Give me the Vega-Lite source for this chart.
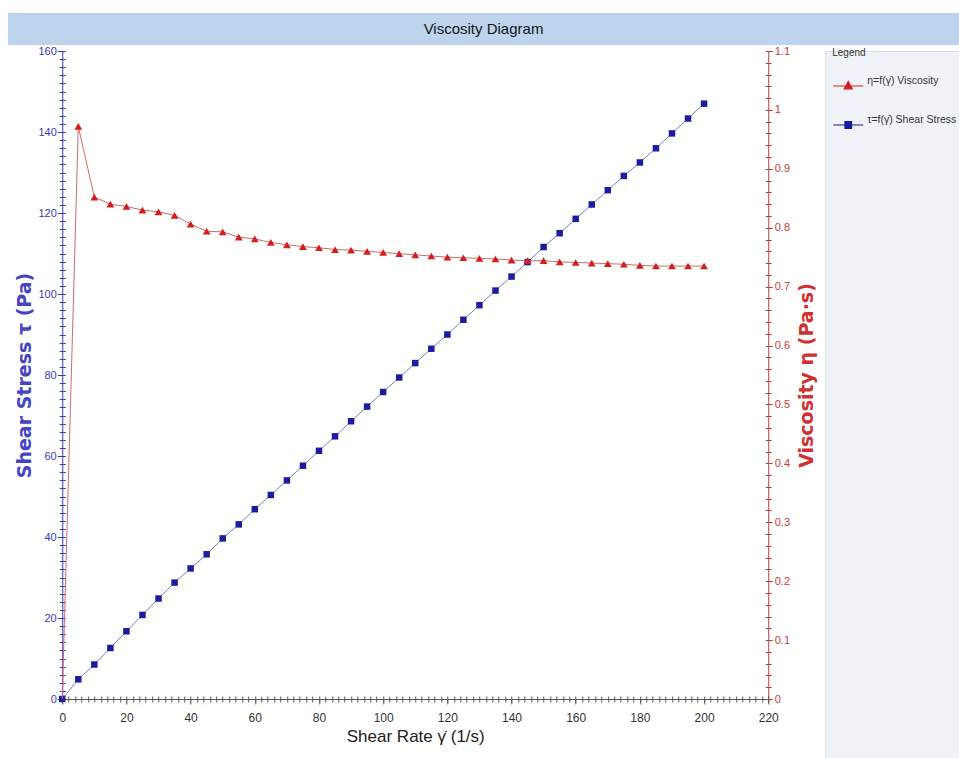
{
  "$schema": "https://vega.github.io/schema/vega-lite/v6.json",
  "background": "white",
  "padding": {"left": 8, "top": 13, "right": 0, "bottom": 0},
  "config": {
    "view": {"stroke": null},
    "axis": {"grid": false},
    "font": "Liberation Sans, Arial, sans-serif"
  },
  "spacing": 0,
  "center": true,
  "resolve": {
    "scale": {"shape": "independent", "fill": "independent", "stroke": "independent"},
    "legend": {"shape": "independent", "fill": "independent", "stroke": "independent"}
  },
  "vconcat": [
    {
      "width": 1022,
      "height": 32,
      "view": {"fill": "#bed4ec", "stroke": null},
      "data": {"values": [{"label": "Viscosity Diagram"}]},
      "mark": {"type": "text", "fontSize": 15, "color": "#141414", "dx": -35.5},
      "encoding": {"text": {"field": "label"}}
    },
    {
      "spacing": 7,
      "align": "none",
      "resolve": {
        "scale": {"shape": "independent", "fill": "independent", "stroke": "independent"},
        "legend": {"shape": "independent", "fill": "independent", "stroke": "independent"}
      },
      "hconcat": [
        {
          "width": 706,
          "height": 648,
          "data": {
            "values": [
              {"rate": 0, "stress": 0, "visc": 0},
              {"rate": 5, "stress": 4.86, "visc": 0.972},
              {"rate": 10, "stress": 8.52, "visc": 0.852},
              {"rate": 15, "stress": 12.6, "visc": 0.84},
              {"rate": 20, "stress": 16.72, "visc": 0.836},
              {"rate": 25, "stress": 20.75, "visc": 0.83},
              {"rate": 30, "stress": 24.81, "visc": 0.827},
              {"rate": 35, "stress": 28.74, "visc": 0.821},
              {"rate": 40, "stress": 32.24, "visc": 0.806},
              {"rate": 45, "stress": 35.73, "visc": 0.794},
              {"rate": 50, "stress": 39.65, "visc": 0.793},
              {"rate": 55, "stress": 43.12, "visc": 0.784},
              {"rate": 60, "stress": 46.86, "visc": 0.781},
              {"rate": 65, "stress": 50.38, "visc": 0.775},
              {"rate": 70, "stress": 53.97, "visc": 0.771},
              {"rate": 75, "stress": 57.6, "visc": 0.768},
              {"rate": 80, "stress": 61.28, "visc": 0.766},
              {"rate": 85, "stress": 64.86, "visc": 0.763},
              {"rate": 90, "stress": 68.58, "visc": 0.762},
              {"rate": 95, "stress": 72.2, "visc": 0.76},
              {"rate": 100, "stress": 75.8, "visc": 0.758},
              {"rate": 105, "stress": 79.38, "visc": 0.756},
              {"rate": 110, "stress": 82.94, "visc": 0.754},
              {"rate": 115, "stress": 86.48, "visc": 0.752},
              {"rate": 120, "stress": 90.0, "visc": 0.75},
              {"rate": 125, "stress": 93.63, "visc": 0.749},
              {"rate": 130, "stress": 97.24, "visc": 0.748},
              {"rate": 135, "stress": 100.85, "visc": 0.747},
              {"rate": 140, "stress": 104.3, "visc": 0.745},
              {"rate": 145, "stress": 107.88, "visc": 0.744},
              {"rate": 150, "stress": 111.6, "visc": 0.744},
              {"rate": 155, "stress": 115.01, "visc": 0.742},
              {"rate": 160, "stress": 118.56, "visc": 0.741},
              {"rate": 165, "stress": 122.1, "visc": 0.74},
              {"rate": 170, "stress": 125.63, "visc": 0.739},
              {"rate": 175, "stress": 129.15, "visc": 0.738},
              {"rate": 180, "stress": 132.48, "visc": 0.736},
              {"rate": 185, "stress": 135.98, "visc": 0.735},
              {"rate": 190, "stress": 139.65, "visc": 0.735},
              {"rate": 195, "stress": 143.33, "visc": 0.735},
              {"rate": 200, "stress": 147.0, "visc": 0.735}
            ]
          },
          "resolve": {"scale": {"y": "independent"}, "axis": {"x": "independent"}},
          "layer": [
            {
              "resolve": {"axis": {"x": "independent", "y": "independent"}},
              "layer": [
                {
                  "mark": {"type": "line", "color": "#7c7cc4", "strokeWidth": 1},
                  "encoding": {
                    "x": {
                      "field": "rate",
                      "type": "quantitative",
                      "scale": {"domain": [0, 220], "nice": false},
                      "axis": {
                        "orient": "bottom",
                        "title": "Shear Rate γ̇ (1/s)",
                        "values": [0, 20, 40, 60, 80, 100, 120, 140, 160, 180, 200, 220],
                        "labelFlush": false,
                        "labelPadding": 8,
                        "labelFontSize": 12,
                        "labelColor": "#333333",
                        "tickSize": 5,
                        "tickColor": "#555555",
                        "domainColor": "#555555",
                        "titleFontSize": 17,
                        "titleFontWeight": "normal",
                        "titleColor": "#222222",
                        "titlePadding": 5
                      }
                    },
                    "y": {
                      "field": "stress",
                      "type": "quantitative",
                      "scale": {"domain": [0, 160], "nice": false},
                      "axis": {
                        "orient": "left",
                        "title": "Shear Stress τ (Pa)",
                        "values": [0, 20, 40, 60, 80, 100, 120, 140, 160],
                        "labelPadding": 1,
                        "labelFontSize": 11,
                        "labelColor": "#3a3ab4",
                        "tickSize": 5,
                        "tickColor": "#3a3ab4",
                        "domainColor": "#3a3ab4",
                        "titleFont": "DejaVu Sans",
                        "titleFontSize": 19,
                        "titleFontWeight": "bold",
                        "titleColor": "#4545c4",
                        "titlePadding": 3
                      }
                    }
                  }
                },
                {
                  "mark": {"type": "point", "shape": "square", "filled": true, "size": 42, "color": "#1c1ca0", "opacity": 1},
                  "encoding": {
                    "x": {"field": "rate", "type": "quantitative", "axis": null},
                    "y": {
                      "field": "stress",
                      "type": "quantitative",
                      "axis": {
                        "orient": "left",
                        "title": null,
                        "labels": false,
                        "domain": false,
                        "values": [0,2,4,6,8,10,12,14,16,18,20,22,24,26,28,30,32,34,36,38,40,42,44,46,48,50,52,54,56,58,60,62,64,66,68,70,72,74,76,78,80,82,84,86,88,90,92,94,96,98,100,102,104,106,108,110,112,114,116,118,120,122,124,126,128,130,132,134,136,138,140,142,144,146,148,150,152,154,156,158,160],
                        "tickSize": 3,
                        "tickColor": "#3a3ab4"
                      }
                    }
                  }
                },
                {
                  "transform": [{"filter": "false"}],
                  "mark": {"type": "point"},
                  "encoding": {
                    "x": {
                      "field": "rate",
                      "type": "quantitative",
                      "axis": {
                        "orient": "bottom",
                        "title": null,
                        "labels": false,
                        "domain": false,
                        "values": [0,2,4,6,8,10,12,14,16,18,20,22,24,26,28,30,32,34,36,38,40,42,44,46,48,50,52,54,56,58,60,62,64,66,68,70,72,74,76,78,80,82,84,86,88,90,92,94,96,98,100,102,104,106,108,110,112,114,116,118,120,122,124,126,128,130,132,134,136,138,140,142,144,146,148,150,152,154,156,158,160,162,164,166,168,170,172,174,176,178,180,182,184,186,188,190,192,194,196,198,200,202,204,206,208,210,212,214,216,218,220],
                        "tickSize": -3,
                        "tickColor": "#555555"
                      }
                    },
                    "y": {
                      "field": "stress",
                      "type": "quantitative",
                      "axis": {
                        "orient": "left",
                        "title": null,
                        "labels": false,
                        "domain": false,
                        "values": [0,2,4,6,8,10,12,14,16,18,20,22,24,26,28,30,32,34,36,38,40,42,44,46,48,50,52,54,56,58,60,62,64,66,68,70,72,74,76,78,80,82,84,86,88,90,92,94,96,98,100,102,104,106,108,110,112,114,116,118,120,122,124,126,128,130,132,134,136,138,140,142,144,146,148,150,152,154,156,158,160],
                        "tickSize": -3,
                        "tickColor": "#3a3ab4"
                      }
                    }
                  }
                }
              ]
            },
            {
              "resolve": {"axis": {"x": "independent", "y": "independent"}},
              "layer": [
                {
                  "mark": {"type": "line", "color": "#d06a6a", "strokeWidth": 1},
                  "encoding": {
                    "x": {
                      "field": "rate",
                      "type": "quantitative",
                      "axis": {
                        "orient": "bottom",
                        "title": null,
                        "labels": false,
                        "domain": false,
                        "values": [0,2,4,6,8,10,12,14,16,18,20,22,24,26,28,30,32,34,36,38,40,42,44,46,48,50,52,54,56,58,60,62,64,66,68,70,72,74,76,78,80,82,84,86,88,90,92,94,96,98,100,102,104,106,108,110,112,114,116,118,120,122,124,126,128,130,132,134,136,138,140,142,144,146,148,150,152,154,156,158,160,162,164,166,168,170,172,174,176,178,180,182,184,186,188,190,192,194,196,198,200,202,204,206,208,210,212,214,216,218,220],
                        "tickSize": 3,
                        "tickColor": "#555555"
                      }
                    },
                    "y": {
                      "field": "visc",
                      "type": "quantitative",
                      "scale": {"domain": [0, 1.1], "nice": false},
                      "axis": {
                        "orient": "right",
                        "title": "Viscosity η (Pa·s)",
                        "titleAngle": 270,
                        "titleBaseline": "top",
                        "values": [0, 0.1, 0.2, 0.3, 0.4, 0.5, 0.6, 0.7, 0.8, 0.9, 1, 1.1],
                        "labelExpr": "format(datum.value, '~g')",
                        "labelPadding": 2,
                        "labelFontSize": 11,
                        "labelColor": "#c83a3a",
                        "tickSize": 4,
                        "tickColor": "#b04040",
                        "domainColor": "#b04040",
                        "titleFont": "DejaVu Sans",
                        "titleFontSize": 19,
                        "titleFontWeight": "bold",
                        "titleColor": "#d03030",
                        "titlePadding": 8
                      }
                    }
                  }
                },
                {
                  "transform": [{"filter": "datum.rate > 0"}],
                  "mark": {"type": "point", "shape": "triangle-up", "filled": true, "size": 60, "color": "#d41e1e", "opacity": 1},
                  "encoding": {
                    "x": {"field": "rate", "type": "quantitative", "axis": null},
                    "y": {
                      "field": "visc",
                      "type": "quantitative",
                      "axis": {
                        "orient": "right",
                        "title": null,
                        "labels": false,
                        "domain": false,
                        "values": [0,0.02,0.04,0.06,0.08,0.1,0.12,0.14,0.16,0.18,0.2,0.22,0.24,0.26,0.28,0.3,0.32,0.34,0.36,0.38,0.4,0.42,0.44,0.46,0.48,0.5,0.52,0.54,0.56,0.58,0.6,0.62,0.64,0.66,0.68,0.7,0.72,0.74,0.76,0.78,0.8,0.82,0.84,0.86,0.88,0.9,0.92,0.94,0.96,0.98,1,1.02,1.04,1.06,1.08,1.1],
                        "tickSize": 3,
                        "tickColor": "#b04040"
                      }
                    }
                  }
                },
                {
                  "transform": [{"filter": "false"}],
                  "mark": {"type": "point"},
                  "encoding": {
                    "x": {"field": "rate", "type": "quantitative", "axis": null},
                    "y": {
                      "field": "visc",
                      "type": "quantitative",
                      "axis": {
                        "orient": "right",
                        "title": null,
                        "labels": false,
                        "domain": false,
                        "values": [0,0.02,0.04,0.06,0.08,0.1,0.12,0.14,0.16,0.18,0.2,0.22,0.24,0.26,0.28,0.3,0.32,0.34,0.36,0.38,0.4,0.42,0.44,0.46,0.48,0.5,0.52,0.54,0.56,0.58,0.6,0.62,0.64,0.66,0.68,0.7,0.72,0.74,0.76,0.78,0.8,0.82,0.84,0.86,0.88,0.9,0.92,0.94,0.96,0.98,1,1.02,1.04,1.06,1.08,1.1],
                        "tickSize": -3,
                        "tickColor": "#b04040"
                      }
                    }
                  }
                }
              ]
            }
          ]
        },
        {
          "width": 150,
          "height": 710,
          "view": {"fill": "#eff3f8", "stroke": "#d9dee6"},
          "data": {"values": [{"series": "η=f(γ̇) Viscosity"}, {"series": "τ=f(γ̇) Shear Stress"}]},
          "transform": [{"filter": "false"}],
          "mark": {"type": "point", "filled": true, "opacity": 1},
          "encoding": {
            "shape": {
              "field": "series",
              "type": "nominal",
              "scale": {
                "domain": ["η=f(γ̇) Viscosity", "τ=f(γ̇) Shear Stress"],
                "range": ["M-1,0L1,0M-0.27,0.2L0,-0.3L0.27,0.2Z", "M-1,0L1,0M-0.22,-0.22L0.22,-0.22L0.22,0.22L-0.22,0.22Z"]
              },
              "legend": {
                "title": "Legend",
                "orient": "none",
                "legendX": 7,
                "legendY": -3,
                "padding": 0,
                "titleFontSize": 10,
                "titleFontWeight": "normal",
                "titleColor": "#333333",
                "titlePadding": 12,
                "labelFontSize": 10.5,
                "labelColor": "#333333",
                "labelBaseline": "bottom",
                "labelOffset": 3,
                "symbolSize": 900,
                "symbolStrokeWidth": 1.2,
                "symbolOpacity": 1,
                "rowPadding": 17
              }
            },
            "fill": {
              "field": "series",
              "type": "nominal",
              "scale": {"domain": ["η=f(γ̇) Viscosity", "τ=f(γ̇) Shear Stress"], "range": ["#d41e1e", "#1c1ca0"]},
              "legend": {"title": "Legend", "orient": "none"}
            },
            "stroke": {
              "field": "series",
              "type": "nominal",
              "scale": {"domain": ["η=f(γ̇) Viscosity", "τ=f(γ̇) Shear Stress"], "range": ["#d41e1e", "#1c1ca0"]},
              "legend": {"title": "Legend", "orient": "none"}
            }
          }
        }
      ]
    }
  ]
}
